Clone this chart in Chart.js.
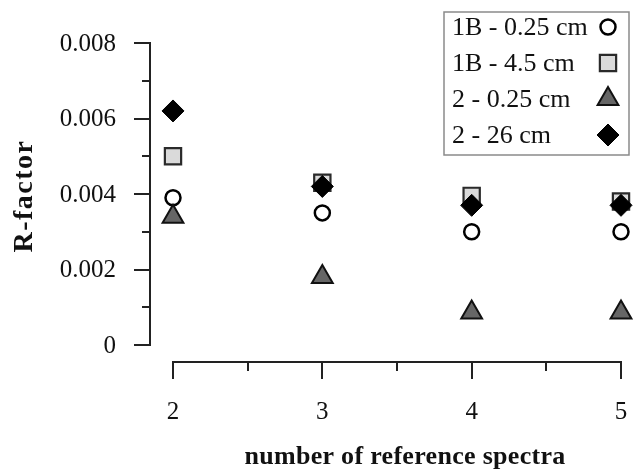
<!DOCTYPE html>
<html>
<head>
<meta charset="utf-8">
<script src="https://cdn.jsdelivr.net/npm/chart.js@4/dist/chart.umd.min.js"></script>
<style>
  body { margin: 0; background: #fff; }
  #wrap { width: 635px; height: 470px; }
</style>
</head>
<body>
<div id="wrap"><canvas id="chart" width="635" height="470"></canvas></div>
<script>
// values
const spectraCounts = [2, 3, 4, 5];
const r1B_025 = [0.0039, 0.0035, 0.0030, 0.0030];
const r1B_45 = [0.0050, 0.0043, 0.00395, 0.0038];
const r2_025 = [0.0034, 0.0018, 0.00086, 0.00086];
const r2_26 = [0.0062, 0.0042, 0.0037, 0.0037];
const seriesNames = ["1B - 0.25 cm", "1B - 4.5 cm", "2 - 0.25 cm", "2 - 26 cm"];
const yTickValues = [0, 0.002, 0.004, 0.006, 0.008];
const yTickLabels = ["0", "0.002", "0.004", "0.006", "0.008"];
const yMinorValues = [0.001, 0.003, 0.005, 0.007];
const xTickValues = [2, 3, 4, 5];
const xTickLabels = ["2", "3", "4", "5"];
const xMinorValues = [2.5, 3.5, 4.5];
const xTitle = "number of reference spectra";
const yTitle = "R-factor";

const toPoints = (vals) => vals.map((v, i) => ({ x: spectraCounts[i], y: v }));

const AXIS_COLOR = "#222";
const SERIF = "'Liberation Serif', 'Times New Roman', serif";

// draws offset axes with minor ticks, like the original plot
const axesPlugin = {
  id: "offsetAxes",
  afterDraw(chart) {
    const { ctx, chartArea } = chart;
    const xs = chart.scales.x;
    const ys = chart.scales.y;
    const axisX = chartArea.left - 23;   // y axis line position
    const axisY = chartArea.bottom + 17; // x axis line position

    ctx.save();
    ctx.strokeStyle = AXIS_COLOR;
    ctx.lineWidth = 2;
    ctx.lineCap = "butt";

    // y axis
    ctx.beginPath();
    ctx.moveTo(axisX, ys.getPixelForValue(yTickValues[0]) + 1);
    ctx.lineTo(axisX, ys.getPixelForValue(yTickValues[yTickValues.length - 1]) - 1);
    yTickValues.forEach((v) => {
      const py = Math.round(ys.getPixelForValue(v));
      ctx.moveTo(axisX - 16, py);
      ctx.lineTo(axisX + 1, py);
    });
    yMinorValues.forEach((v) => {
      const py = Math.round(ys.getPixelForValue(v));
      ctx.moveTo(axisX - 8, py);
      ctx.lineTo(axisX + 1, py);
    });
    ctx.stroke();

    // x axis
    ctx.beginPath();
    ctx.moveTo(xs.getPixelForValue(xTickValues[0]) - 1, axisY);
    ctx.lineTo(xs.getPixelForValue(xTickValues[xTickValues.length - 1]) + 1, axisY);
    xTickValues.forEach((v) => {
      const px = Math.round(xs.getPixelForValue(v));
      ctx.moveTo(px, axisY - 1);
      ctx.lineTo(px, axisY + 17);
    });
    xMinorValues.forEach((v) => {
      const px = Math.round(xs.getPixelForValue(v));
      ctx.moveTo(px, axisY - 1);
      ctx.lineTo(px, axisY + 9);
    });
    ctx.stroke();

    // tick labels
    ctx.fillStyle = "#111";
    ctx.font = "25px " + SERIF;
    ctx.textAlign = "right";
    ctx.textBaseline = "middle";
    yTickValues.forEach((v, i) => {
      ctx.fillText(yTickLabels[i], axisX - 34, ys.getPixelForValue(v) + 1);
    });
    ctx.textAlign = "center";
    xTickValues.forEach((v, i) => {
      ctx.fillText(xTickLabels[i], xs.getPixelForValue(v), axisY + 50);
    });

    // axis titles
    ctx.font = "bold 26px " + SERIF;
    ctx.letterSpacing = "0.3px";
    ctx.fillText(xTitle, (xs.getPixelForValue(2) + xs.getPixelForValue(5)) / 2 + 8, axisY + 95);
    ctx.save();
    ctx.translate(25, (ys.getPixelForValue(0) + ys.getPixelForValue(0.008)) / 2 + 2);
    ctx.rotate(-Math.PI / 2);
    ctx.font = "bold 28px " + SERIF;
    ctx.letterSpacing = "1.5px";
    ctx.fillText(yTitle, 0, 0);
    ctx.restore();

    ctx.restore();
  }
};

// boxed legend, text on the left, marker on the right
const legendPlugin = {
  id: "boxLegend",
  afterDraw(chart) {
    const { ctx } = chart;
    const box = { x: 444, y: 12, w: 185, h: 143 };
    ctx.save();
    ctx.fillStyle = "#fff";
    ctx.fillRect(box.x, box.y, box.w, box.h);
    ctx.strokeStyle = "#8a8a8a";
    ctx.lineWidth = 1.5;
    ctx.strokeRect(box.x, box.y, box.w, box.h);

    chart.data.datasets.forEach((ds, i) => {
      const cy = box.y + 15 + i * 36;
      ctx.fillStyle = "#111";
      ctx.font = "26px " + SERIF;
      ctx.textAlign = "left";
      ctx.textBaseline = "middle";
      ctx.fillText(ds.label, box.x + 8, cy + 1);

      ctx.fillStyle = ds.pointBackgroundColor;
      ctx.strokeStyle = ds.pointBorderColor;
      ctx.lineWidth = ds.pointBorderWidth;
      Chart.helpers.drawPoint(ctx, {
        pointStyle: ds.pointStyle,
        radius: ds.pointRadius,
        rotation: 0,
        borderWidth: ds.pointBorderWidth
      }, box.x + 164, cy);
    });
    ctx.restore();
  }
};

new Chart(document.getElementById("chart"), {
  type: "scatter",
  data: {
    datasets: [
      {
        label: seriesNames[0],
        data: toPoints(r1B_025),
        pointStyle: "circle",
        pointRadius: 7.5,
        pointBackgroundColor: "#ffffff",
        pointBorderColor: "#000000",
        pointBorderWidth: 2.5,
        order: 4,
        clip: false
      },
      {
        label: seriesNames[1],
        data: toPoints(r1B_45),
        pointStyle: "rect",
        pointRadius: 11.5,
        pointBackgroundColor: "#dadada",
        pointBorderColor: "#2a2a2a",
        pointBorderWidth: 2.2,
        order: 3,
        clip: false
      },
      {
        label: seriesNames[2],
        data: toPoints(r2_025),
        pointStyle: "triangle",
        pointRadius: 12,
        pointBackgroundColor: "#666666",
        pointBorderColor: "#111111",
        pointBorderWidth: 2,
        order: 2,
        clip: false
      },
      {
        label: seriesNames[3],
        data: toPoints(r2_26),
        pointStyle: "rectRot",
        pointRadius: 11,
        pointBackgroundColor: "#000000",
        pointBorderColor: "#000000",
        pointBorderWidth: 1,
        order: 1,
        clip: false
      }
    ]
  },
  options: {
    responsive: false,
    animation: false,
    layout: {
      padding: { left: 173, right: 6, top: 43, bottom: 125 }
    },
    scales: {
      x: { type: "linear", min: 2, max: 5, display: false },
      y: { type: "linear", min: 0, max: 0.008, display: false }
    },
    plugins: {
      legend: { display: false },
      tooltip: { enabled: false }
    }
  },
  plugins: [axesPlugin, legendPlugin]
});
</script>
</body>
</html>
